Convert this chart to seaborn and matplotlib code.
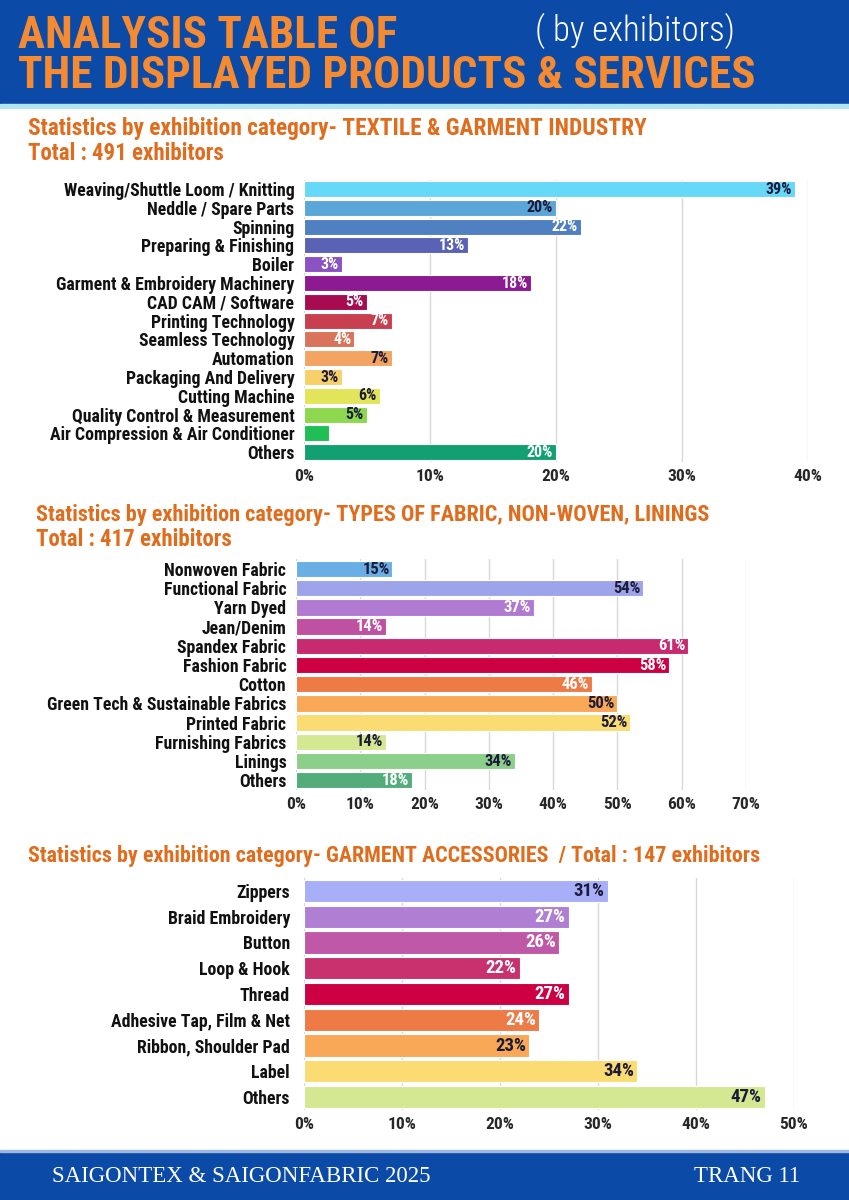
import matplotlib
matplotlib.use("Agg")
import matplotlib.pyplot as plt
import seaborn as sns
from matplotlib.patches import Rectangle

# ---- data ----
textile_labels = [
    "Weaving/Shuttle Loom / Knitting", "Neddle / Spare Parts", "Spinning",
    "Preparing & Finishing", "Boiler", "Garment & Embroidery Machinery",
    "CAD CAM / Software", "Printing Technology", "Seamless Technology",
    "Automation", "Packaging And Delivery", "Cutting Machine",
    "Quality Control & Measurement", "Air Compression & Air Conditioner", "Others",
]
textile_values = [39, 20, 22, 13, 3, 18, 5, 7, 4, 7, 3, 6, 5, 2, 20]
textile_shown = [True] * 13 + [False, True]
textile_colors = [
    "#66d8f8", "#5ba6d8", "#4f80c2", "#5a62b6", "#8a52c2", "#8c1a90",
    "#a80c50", "#c84050", "#d8745a", "#f3a462", "#f8d06a", "#e2e45a",
    "#8ed850", "#1fbf55", "#12a073",
]
textile_text = ["d", "d", "w", "w", "w", "w", "w", "w", "w", "d", "d", "d", "d", "d", "w"]

fabric_labels = [
    "Nonwoven Fabric", "Functional Fabric", "Yarn Dyed", "Jean/Denim",
    "Spandex Fabric", "Fashion Fabric", "Cotton",
    "Green Tech & Sustainable Fabrics", "Printed Fabric", "Furnishing Fabrics",
    "Linings", "Others",
]
fabric_values = [15, 54, 37, 14, 61, 58, 46, 50, 52, 14, 34, 18]
fabric_colors = [
    "#6aaee6", "#9ea4ea", "#b07ad2", "#c050a2", "#c82a70", "#cc0042",
    "#ee7a46", "#f8a856", "#fadc72", "#d4e892", "#8ccf8a", "#52ad7a",
]
fabric_text = ["d", "d", "w", "w", "w", "w", "w", "d", "d", "d", "d", "w"]

acc_labels = [
    "Zippers", "Braid Embroidery", "Button", "Loop & Hook", "Thread",
    "Adhesive Tap, Film & Net", "Ribbon, Shoulder Pad", "Label", "Others",
]
acc_values = [31, 27, 26, 22, 27, 24, 23, 34, 47]
acc_colors = [
    "#a8aef8", "#b07ed2", "#c058a8", "#c8306e", "#cc0042",
    "#ee7a46", "#f8a856", "#fadc72", "#d4e892",
]
acc_text = ["d", "w", "w", "w", "w", "w", "d", "d", "d"]

BLUE = "#0b4aa6"
ORANGE = "#f58a30"
SUB_ORANGE = "#e06c1e"
DARK = "#1c1c3a"

COND = ["Roboto Condensed", "DejaVu Sans"]
SERIF = ["Liberation Serif", "DejaVu Serif"]

sns.set_theme(style="white")
plt.rcParams["font.family"] = COND

W, H = 849, 1200
fig = plt.figure(figsize=(W / 100, H / 100), dpi=100)


def px_axes(left, top, right, bottom):
    return fig.add_axes([left / W, 1 - bottom / H, (right - left) / W, (bottom - top) / H])


# header & footer bands
bg = fig.add_axes([0, 0, 1, 1])
bg.set_xlim(0, W)
bg.set_ylim(H, 0)
bg.axis("off")
bg.add_patch(Rectangle((0, 0), W, 104, color=BLUE))
bg.add_patch(Rectangle((0, 104), W, 4, color="#b4e4f4"))
bg.add_patch(Rectangle((0, 1152), W, 48, color=BLUE))
bg.add_patch(Rectangle((0, 1150), W, 2, color="#9cb8e0"))

# baseline-anchored so the two title lines sit tight without their boxes colliding
bg.text(18, 48, "ANALYSIS TABLE OF", color=ORANGE, fontsize=32.5, fontweight="bold",
        va="baseline")
bg.text(18, 88, "THE DISPLAYED PRODUCTS & SERVICES", color=ORANGE, fontsize=32.5,
        fontweight="bold", va="baseline")
bg.text(535, 31, "( by exhibitors)", color="white", fontsize=25, va="center",
        fontweight="light")

bg.text(28, 128, "Statistics by exhibition category- TEXTILE & GARMENT INDUSTRY",
        color=SUB_ORANGE, fontsize=16.8, fontweight="bold", va="center")
bg.text(28, 154, "Total : 491 exhibitors", color=SUB_ORANGE, fontsize=16.5,
        fontweight="bold", va="center")
bg.text(36, 515, "Statistics by exhibition category- TYPES OF FABRIC, NON-WOVEN, LININGS",
        color=SUB_ORANGE, fontsize=16, fontweight="bold", va="center")
bg.text(36, 539, "Total : 417 exhibitors", color=SUB_ORANGE, fontsize=16.5,
        fontweight="bold", va="center")
bg.text(28, 856, "Statistics by exhibition category- GARMENT ACCESSORIES  / Total : 147 exhibitors",
        color=SUB_ORANGE, fontsize=15.8, fontweight="bold", va="center")

bg.text(52, 1177, "SAIGONTEX & SAIGONFABRIC 2025", color="white",
        fontsize=16.5, va="center", family=SERIF)
bg.text(800, 1177, "TRANG 11", color="white", fontsize=16.5, va="center",
        ha="right", family=SERIF)


def draw_chart(ax, labels, values, colors, text_colors, xmax, shown=None,
               label_fs=12.8, value_fs=10.5, pad=6):
    sns.barplot(x=values, y=labels, hue=labels, palette=colors, legend=False,
                width=0.86, orient="h", saturation=1, edgecolor="white",
                linewidth=0.8, ax=ax)
    ax.set_xlim(0, xmax)
    ax.set_xticks(range(0, xmax + 1, 10))
    ax.set_xticklabels([f"{t}%" for t in range(0, xmax + 1, 10)], fontweight="bold", fontsize=12.5)
    ax.grid(axis="x", color="#d8d8d8", linewidth=1)
    ax.set_axisbelow(True)
    for s in ax.spines.values():
        s.set_visible(False)
    ax.set_xlabel("")
    ax.set_ylabel("")
    ax.tick_params(axis="y", length=0, pad=pad, labelsize=label_fs)
    ax.tick_params(axis="x", length=0, pad=5)
    for lab in ax.get_yticklabels():
        lab.set_fontweight("bold")
        lab.set_color("#111111")
    for i, v in enumerate(values):
        if shown is not None and not shown[i]:
            continue
        c = "white" if text_colors[i] == "w" else DARK
        ax.text(v - xmax * 0.006, i, f"{v}%", ha="right", va="center",
                fontsize=value_fs, fontweight="bold", color=c, family=COND)


ax1 = px_axes(304, 179.6, 808, 461.6)
draw_chart(ax1, textile_labels, textile_values, textile_colors, textile_text, 40,
           shown=textile_shown, label_fs=12.8, value_fs=11.5, pad=7)

ax2 = px_axes(296, 559.4, 746, 789.8)
draw_chart(ax2, fabric_labels, fabric_values, fabric_colors, fabric_text, 70,
           label_fs=12.8, value_fs=12, pad=7)

ax3 = px_axes(304, 878.1, 794, 1109.9)
draw_chart(ax3, acc_labels, acc_values, acc_colors, acc_text, 50,
           label_fs=12.8, value_fs=13.5, pad=10)

fig.savefig("out.png", dpi=100)
